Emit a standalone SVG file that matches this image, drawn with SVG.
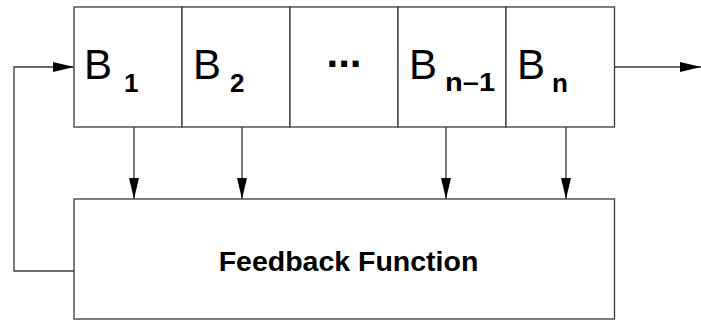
<svg xmlns="http://www.w3.org/2000/svg" width="701" height="320" viewBox="0 0 701 320">
<defs>
<style>
.box{fill:#fff;stroke:#3a3a3a;stroke-width:1.3}
.ln{fill:none;stroke:#3a3a3a;stroke-width:1.3}
.big{font-family:"Liberation Sans",Arial,sans-serif;font-size:42px;fill:#000}
.sub{font-family:"Liberation Sans",Arial,sans-serif;font-size:26px;font-weight:bold;fill:#000}
.lbl{font-family:"Liberation Sans",Arial,sans-serif;font-size:28.5px;font-weight:bold;fill:#000}
</style>
<marker id="ah" markerWidth="21" markerHeight="10" refX="21" refY="5" orient="auto" markerUnits="userSpaceOnUse">
<path d="M0,0 L21,5 L0,10 Z" fill="#000"/>
</marker>
</defs>
<g id="cell1"><rect class="box" x="74" y="7" width="108" height="120"/><text class="big" x="84" y="79">B</text><text class="sub" x="124" y="91.5">1</text></g>
<g id="cell2"><rect class="box" x="182" y="7" width="108" height="120"/><text class="big" x="193" y="79">B</text><text class="sub" x="230" y="91.5">2</text></g>
<g id="cell3"><rect class="box" x="290" y="7" width="108" height="120"/><text class="big" x="344" y="67" text-anchor="middle" font-weight="bold">...</text></g>
<g id="cell4"><rect class="box" x="398" y="7" width="108" height="120"/><text class="big" x="409" y="79">B</text><text class="sub" x="445" y="91.5" transform="translate(445 0) scale(1.12 1) translate(-445 0)">n–1</text></g>
<g id="cell5"><rect class="box" x="506" y="7" width="108.5" height="120"/><text class="big" x="517" y="79">B</text><text class="sub" x="552" y="91.5">n</text></g>
<g id="feedback"><rect class="box" x="74" y="199" width="540.5" height="120"/><text class="lbl" x="348.5" y="271" text-anchor="middle">Feedback Function</text></g>
<g id="connectors">
<line class="ln" x1="134" y1="127" x2="134" y2="199" marker-end="url(#ah)"/>
<line class="ln" x1="242" y1="127" x2="242" y2="199" marker-end="url(#ah)"/>
<line class="ln" x1="446" y1="127" x2="446" y2="199" marker-end="url(#ah)"/>
<line class="ln" x1="566" y1="127" x2="566" y2="199" marker-end="url(#ah)"/>
<line class="ln" x1="614.5" y1="67" x2="701" y2="67" marker-end="url(#ah)"/>
<polyline class="ln" points="74,271 14,271 14,67 74,67" marker-end="url(#ah)"/>
</g>
</svg>
